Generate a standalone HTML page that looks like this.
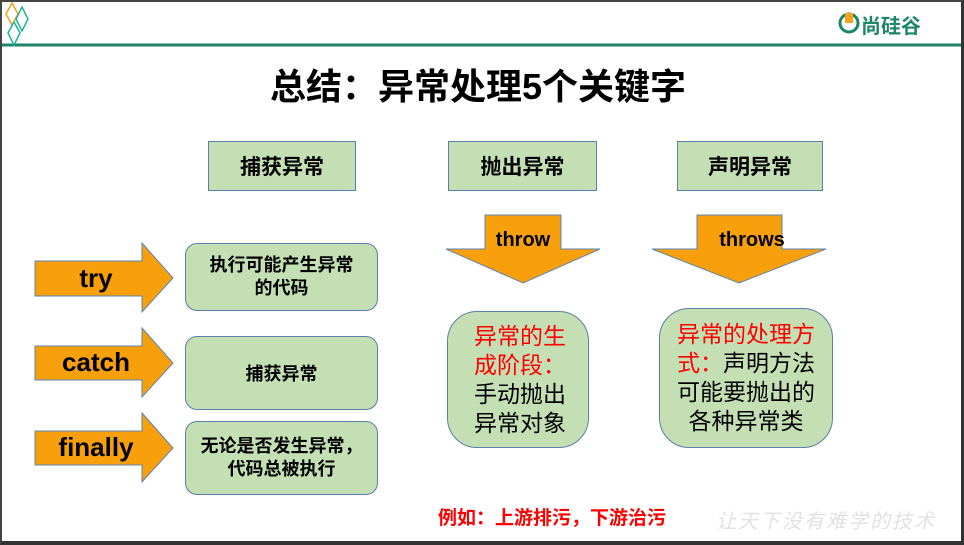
<!DOCTYPE html>
<html><head><meta charset="utf-8"><style>
body{margin:0;width:964px;height:545px;overflow:hidden;background:#fff;font-family:"Liberation Sans","Noto Sans CJK SC",sans-serif;}
.frame{position:absolute;left:0;top:0;width:964px;height:545px;box-sizing:border-box;border-top:2px solid #444;border-left:2px solid #444;border-right:3px solid #333;border-bottom:4px solid #333;}
.a{position:absolute;}
.box{position:absolute;background:#c5dfb4;border:1.5px solid #5a7fa8;box-sizing:border-box;display:flex;align-items:center;justify-content:center;text-align:center;font-weight:bold;color:#000;}
</style></head><body>
<svg class="a" style="left:0;top:0" width="964" height="545">
<line x1="2" y1="45" x2="962" y2="45" stroke="#1d8668" stroke-width="3"/>
<polygon points="12,3 18,14 12,25 6,14" fill="none" stroke="#f5a31a" stroke-width="1.5"/>
<polygon points="22,7 28,19 22,31 16,19" fill="none" stroke="#1fb39a" stroke-width="1.5"/>
<polygon points="14,22 20,33 14,45 8,33" fill="none" stroke="#1fb39a" stroke-width="1.5"/>
<g fill="#f8a00c" stroke="#5b84b0" stroke-width="1">
<polygon points="35,261 142,261 142,243 173,278 142,312 142,296 35,296"/>
<polygon points="35,346 142,346 142,328 173,363 142,397 142,380 35,380"/>
<polygon points="35,431 142,431 142,413 173,448 142,482 142,465 35,465"/>
<polygon points="485,215 561,215 561,249 600,249 523,283 446,249 485,249"/>
<polygon points="697,215 782,215 782,249 826,249 739,283 652,249 697,249"/>
</g>
<circle cx="849" cy="23" r="9" fill="none" stroke="#1d8668" stroke-width="3"/>
<rect x="845" y="13" width="8" height="10" fill="#f5a31a"/>
</svg>
<div class="frame"></div>
<div class="a" style="left:861px;top:10px;font-size:20px;font-weight:bold;color:#1d8668;">尚硅谷</div>
<div class="a" style="left:0;width:956px;top:58px;text-align:center;font-size:36px;font-weight:bold;">总结：异常处理5个关键字</div>
<div class="box" style="left:208px;top:141px;width:148px;height:50px;font-size:21px;">捕获异常</div>
<div class="box" style="left:448px;top:141px;width:149px;height:50px;font-size:21px;">抛出异常</div>
<div class="box" style="left:677px;top:141px;width:146px;height:50px;font-size:21px;">声明异常</div>
<div class="a" style="left:35px;width:122px;top:263px;text-align:center;font-size:26px;font-weight:bold;">try</div>
<div class="a" style="left:35px;width:122px;top:347px;text-align:center;font-size:26px;font-weight:bold;">catch</div>
<div class="a" style="left:35px;width:122px;top:432px;text-align:center;font-size:26px;font-weight:bold;">finally</div>
<div class="a" style="left:485px;width:76px;top:229px;text-align:center;font-size:20px;font-weight:bold;">throw</div>
<div class="a" style="left:697px;width:110px;top:229px;text-align:center;font-size:20px;font-weight:bold;">throws</div>
<div class="box" style="left:185px;top:243px;width:193px;height:68px;border-radius:12px;font-size:18px;line-height:23px;">执行可能产生异常<br>的代码</div>
<div class="box" style="left:185px;top:336px;width:193px;height:74px;border-radius:12px;font-size:18px;">捕获异常</div>
<div class="box" style="left:185px;top:421px;width:193px;height:74px;border-radius:12px;font-size:18px;line-height:23px;">无论是否发生异常，<br>代码总被执行</div>
<div class="box" style="left:447px;top:311px;width:142px;height:137px;border-radius:30px;font-size:23px;line-height:29px;font-weight:normal;text-align:left;justify-content:flex-start;padding-left:26px;"><div><span style="color:#f00">异常的生<br>成阶段：</span><br>手动抛出<br>异常对象</div></div>
<div class="box" style="left:659px;top:308px;width:174px;height:140px;border-radius:30px;font-size:23px;line-height:29px;font-weight:normal;"><div><span style="color:#f00">异常的处理方<br>式：</span>声明方法<br>可能要抛出的<br>各种异常类</div></div>
<div class="a" style="left:438px;top:503px;font-size:19px;font-weight:bold;color:#f00;">例如：上游排污，下游治污</div>
<div class="a" style="left:716px;top:505px;font-size:20px;color:#e2e2e2;letter-spacing:2px;font-style:italic;">让天下没有难学的技术</div>
</body></html>
